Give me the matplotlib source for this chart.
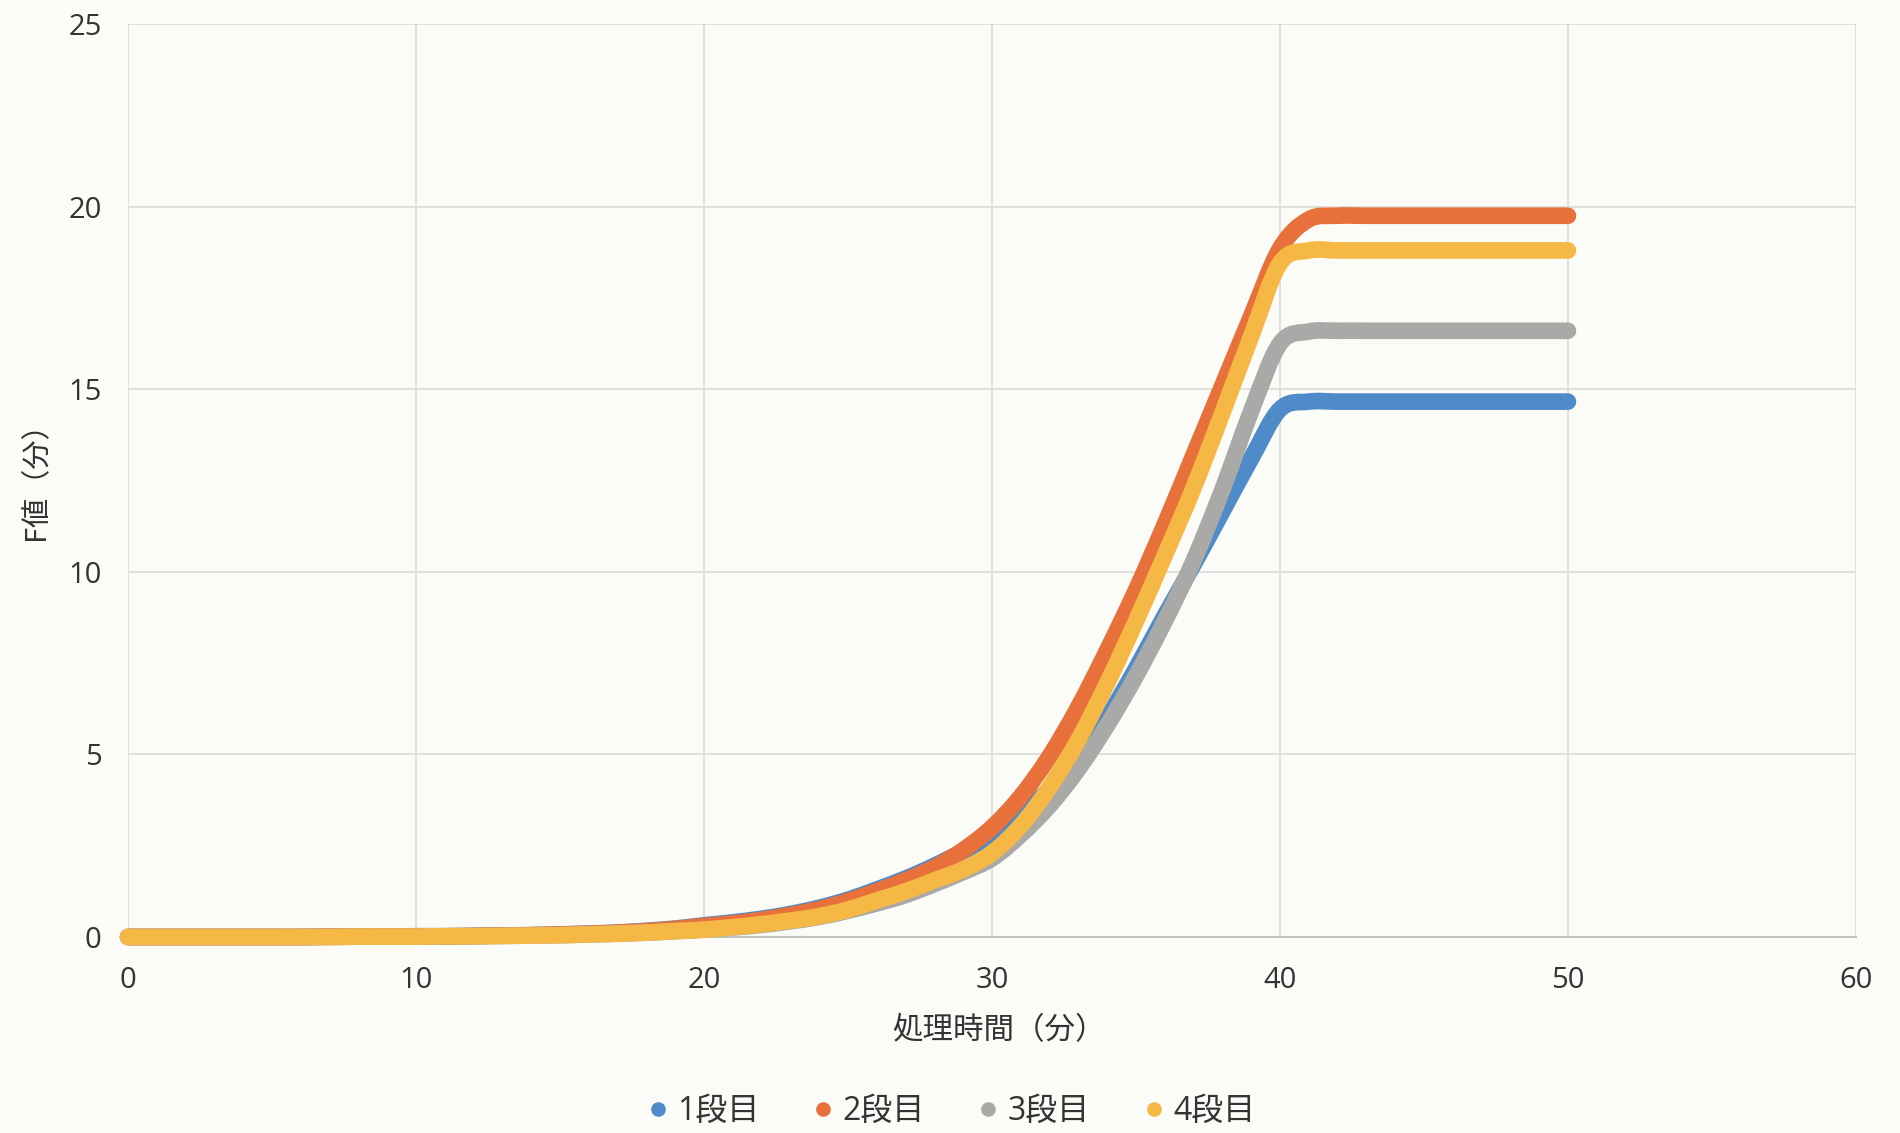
import numpy as np
import matplotlib
matplotlib.use("Agg")
import matplotlib.pyplot as plt
from matplotlib.lines import Line2D
from matplotlib.path import Path
from matplotlib.patches import PathPatch

plt.rcParams['font.family'] = ['Noto Sans CJK JP', 'DejaVu Sans']

# 処理時間（分）
minutes = list(range(0, 51))

# F値（分） per shelf, one value per minute
f_stage1 = [0.00, 0.00, 0.00, 0.00, 0.00, 0.00, 0.00, 0.01, 0.01, 0.01,
            0.02, 0.02, 0.03, 0.04, 0.05, 0.07, 0.09, 0.12, 0.17, 0.23,
            0.32, 0.40, 0.50, 0.63, 0.80, 1.02, 1.30, 1.60, 1.95, 2.35,
            2.80, 3.35, 4.05, 4.90, 6.00, 7.35, 8.80, 10.20, 11.65, 13.10,
            14.45, 14.66, 14.66, 14.66, 14.66, 14.66, 14.66, 14.66, 14.66, 14.66,
            14.66]
f_stage2 = [0.00, 0.00, 0.00, 0.00, 0.00, 0.00, 0.00, 0.01, 0.01, 0.01,
            0.02, 0.02, 0.03, 0.04, 0.05, 0.07, 0.09, 0.12, 0.16, 0.22,
            0.30, 0.37, 0.47, 0.60, 0.76, 0.98, 1.25, 1.55, 1.90, 2.38,
            3.00, 3.85, 4.95, 6.30, 7.85, 9.50, 11.30, 13.20, 15.10, 17.00,
            18.85, 19.65, 19.75, 19.75, 19.75, 19.75, 19.75, 19.75, 19.75, 19.75,
            19.75]
f_stage3 = [0.00, 0.00, 0.00, 0.00, 0.00, 0.00, 0.00, 0.00, 0.01, 0.01,
            0.01, 0.02, 0.02, 0.03, 0.04, 0.05, 0.07, 0.09, 0.12, 0.16,
            0.20, 0.26, 0.33, 0.43, 0.55, 0.72, 0.92, 1.15, 1.45, 1.78,
            2.15, 2.80, 3.60, 4.60, 5.80, 7.15, 8.65, 10.30, 12.25, 14.40,
            16.25, 16.58, 16.60, 16.60, 16.60, 16.60, 16.60, 16.60, 16.60, 16.60,
            16.60]
f_stage4 = [0.00, 0.00, 0.00, 0.00, 0.00, 0.00, 0.00, 0.00, 0.01, 0.01,
            0.01, 0.02, 0.02, 0.03, 0.04, 0.05, 0.07, 0.09, 0.12, 0.16,
            0.20, 0.27, 0.35, 0.45, 0.57, 0.75, 1.00, 1.25, 1.55, 1.85,
            2.30, 3.05, 4.10, 5.40, 6.95, 8.65, 10.45, 12.30, 14.35, 16.45,
            18.45, 18.80, 18.80, 18.80, 18.80, 18.80, 18.80, 18.80, 18.80, 18.80,
            18.80]

series_labels = ['1段目', '2段目', '3段目', '4段目']
series_values = [f_stage1, f_stage2, f_stage3, f_stage4]
series_colors = ['#4F8BC9', '#E8703A', '#A9A9A7', '#F5B844']

x_ticks = [0, 10, 20, 30, 40, 50, 60]
y_ticks = [0, 5, 10, 15, 20, 25]
x_title = '処理時間（分）'
y_title = 'F値（分）'

TEXT = '#333333'
bg = '#fbfbf7'


def smooth_path(xs, ys):
    """Smoothed line through the points (Catmull-Rom as cubic Bezier)."""
    p = np.column_stack([xs, ys]).astype(float)
    n = len(p)
    verts = [p[0]]
    codes = [Path.MOVETO]
    for i in range(n - 1):
        p0 = p[i - 1] if i > 0 else p[i]
        p1, p2 = p[i], p[i + 1]
        p3 = p[i + 2] if i + 2 < n else p[i + 1]
        verts += [p1 + (p2 - p0) / 6.0, p2 - (p3 - p1) / 6.0, p2]
        codes += [Path.CURVE4] * 3
    return Path(verts, codes)


fig = plt.figure(figsize=(19, 11.33), dpi=100, facecolor=bg)
ax = fig.add_axes([0.0674, 0.173, 0.9094, 0.8058], facecolor=bg)

for vals, color in zip(series_values, series_colors):
    patch = PathPatch(smooth_path(minutes, vals), fill=False, edgecolor=color,
                      lw=12, capstyle='round', joinstyle='round',
                      clip_on=False, zorder=3)
    ax.add_patch(patch)

ax.set_xlim(0, 60)
ax.set_ylim(0, 25)
ax.set_xticks(x_ticks)
ax.set_yticks(y_ticks)
ax.grid(True, color='#dcdcdc', lw=1.3, zorder=0)
ax.set_axisbelow(True)
for side in ['top', 'right', 'left']:
    ax.spines[side].set_visible(False)
ax.spines['bottom'].set_color('#c4c4c4')
ax.spines['bottom'].set_linewidth(1.5)
ax.tick_params(axis='both', length=0, colors=TEXT)
ax.tick_params(axis='x', pad=21)
ax.tick_params(axis='y', pad=19)
for lab in ax.get_xticklabels() + ax.get_yticklabels():
    lab.set_fontfamily(['Open Sans', 'Noto Sans CJK JP'])
    lab.set_fontsize(21)

fig.text(0.526, 0.0905, x_title, fontsize=22, color=TEXT,
         ha='center', va='center')
fig.text(0.019, 0.582, y_title, fontsize=21, color=TEXT,
         ha='center', va='center', rotation=90)

handles = [Line2D([], [], marker='o', linestyle='none', markersize=9.5,
                  markerfacecolor=c, markeredgecolor=c) for c in series_colors]
leg = fig.legend(handles, series_labels, loc='center', bbox_to_anchor=(0.5, 0.019),
                 ncol=4, frameon=False, fontsize=23, handlelength=0.8,
                 handletextpad=0.2, columnspacing=1.6, labelcolor=TEXT)
for t in leg.get_texts():
    t.set_fontfamily(['Open Sans', 'Noto Sans CJK JP'])

fig.savefig('out.png', dpi=100, facecolor=bg)
